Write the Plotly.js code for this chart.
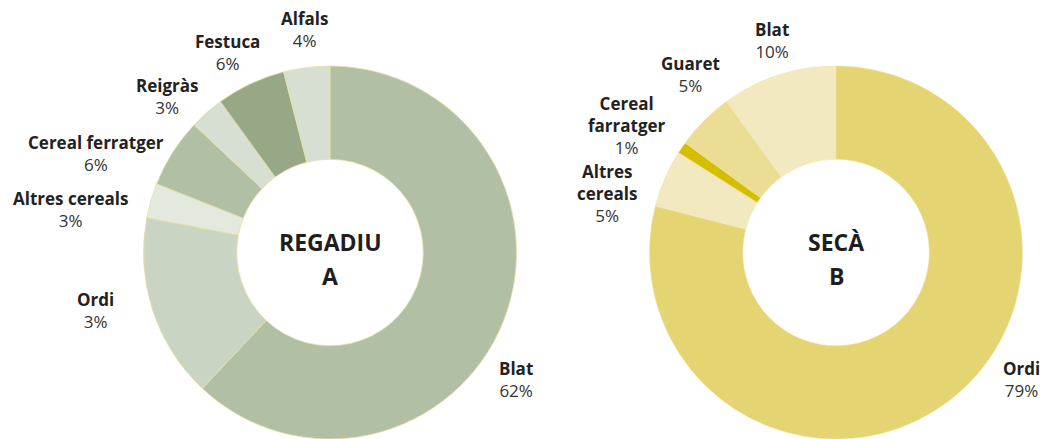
<!DOCTYPE html>
<html>
<head>
<meta charset="utf-8">
<script src="https://cdn.plot.ly/plotly-3.0.1.min.js"></script>
<style>html,body{margin:0;padding:0;background:#fff}#chart{width:1043px;height:439px}</style>
</head>
<body>
<div id="chart"></div>
<script>
// Regadiu (A)
const regadiuCategories = ["Blat", "Ordi", "Altres cereals", "Cereal ferratger", "Reigràs", "Festuca", "Alfals"];
const regadiuValues = [62, 16, 3, 6, 3, 6, 4];
const regadiuLabels = ["62%", "3%", "3%", "6%", "3%", "6%", "4%"];
const regadiuColors = ["#b1bfa5", "#c9d5c2", "#e3e9df", "#b1bfa5", "#d6dfd2", "#97a887", "#d6dfd2"];

// Secà (B)
const secaCategories = ["Ordi", "Altres cereals", "Cereal farratger", "Guaret", "Blat"];
const secaLabelLines = [["Ordi"], ["Altres", "cereals"], ["Cereal", "farratger"], ["Guaret"], ["Blat"]];
const secaValues = [79, 5, 1, 5, 10];
const secaLabels = ["79%", "5%", "1%", "5%", "10%"];
const secaColors = ["#e5d472", "#f2e9c1", "#d5bd00", "#ecdd95", "#f2e9c1"];

// label anchor positions (pixels, layout only)
const regadiuLabelPos = [[516, 379], [95, 310], [70, 210], [96, 153], [167, 96], [227, 52], [304, 29]];
const secaLabelPos = [[1021, 379], [607, 193], [627, 125], [690, 75], [772, 40]];

const W = 1043, H = 439;
const px = x => x / W, py = y => 1 - y / H;

const FONT = "'Open Sans', sans-serif";

const data = [
  {
    type: "pie", values: regadiuValues, labels: regadiuCategories,
    sort: false, direction: "clockwise", rotation: 0, hole: 0.5,
    textinfo: "none", hoverinfo: "label+value",
    marker: {colors: regadiuColors, line: {color: "#e4dfa6", width: 0.8}},
    domain: {x: [(330 - 186.5) / W, (330 + 186.5) / W], y: [0, 373 / H]},
    showlegend: false
  },
  {
    type: "pie", values: secaValues, labels: secaCategories,
    sort: false, direction: "clockwise", rotation: 0, hole: 0.5,
    textinfo: "none", hoverinfo: "label+value",
    marker: {colors: secaColors, line: {color: "#efe3a0", width: 0.5}},
    domain: {x: [(836 - 186.5) / W, (836 + 186.5) / W], y: [0, 373 / H]},
    showlegend: false
  }
];

const annotations = [];
function addLabel(nameLines, pct, pos) {
  annotations.push({
    xref: "paper", yref: "paper", x: px(pos[0]), y: py(pos[1]),
    xanchor: "center", yanchor: "middle", showarrow: false, align: "center",
    text: nameLines.map(t => "<b>" + t + "</b>").join("<br>") +
      "<br><span style='color:#333'>" + pct + "</span>",
    font: {family: FONT, size: 17, color: "#222"}
  });
}
regadiuCategories.forEach((c, i) => addLabel([c], regadiuLabels[i], regadiuLabelPos[i]));
secaLabelLines.forEach((ls, i) => addLabel(ls, secaLabels[i], secaLabelPos[i]));

function addCenter(title, letter, cx) {
  [[title, 242], [letter, 276]].forEach(([t, y]) => {
    annotations.push({
      xref: "paper", yref: "paper", x: px(cx), y: py(y),
      xanchor: "center", yanchor: "middle", showarrow: false,
      text: "<b>" + t + "</b>",
      font: {family: FONT, size: 23, color: "#1e1e1e"}
    });
  });
}
addCenter("REGADIU", "A", 330);
addCenter("SECÀ", "B", 836);

const layout = {
  width: W, height: H,
  margin: {l: 0, r: 0, t: 0, b: 0},
  paper_bgcolor: "#fff",
  annotations: annotations,
  showlegend: false
};

Plotly.newPlot("chart", data, layout, {displayModeBar: false, staticPlot: true});
</script>
</body>
</html>
